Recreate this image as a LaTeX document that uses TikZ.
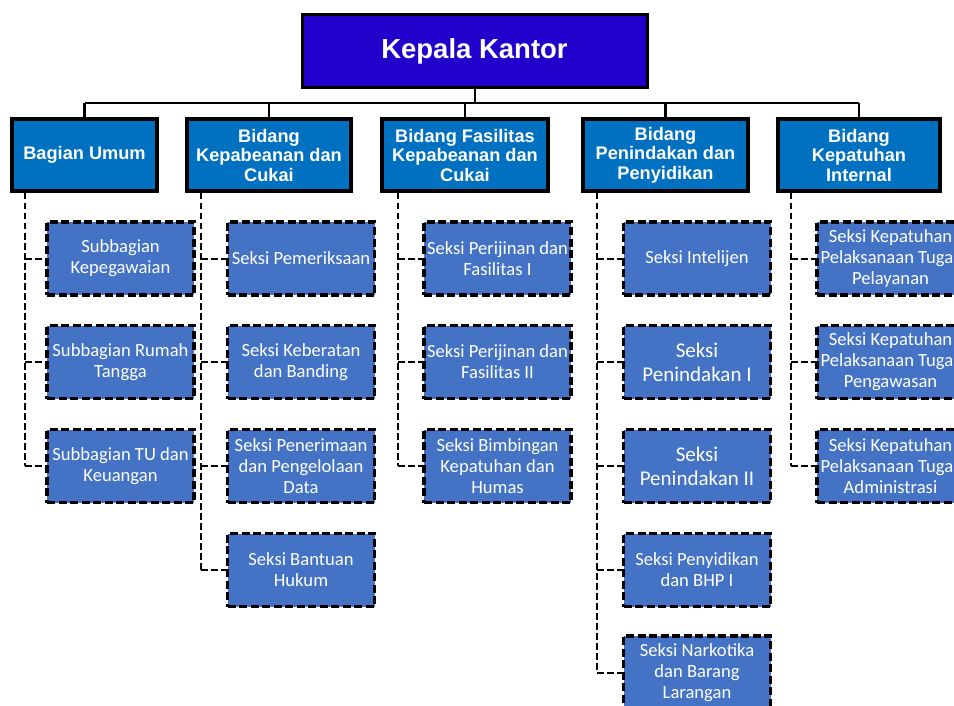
\documentclass[tikz,border=0pt]{standalone}
\usepackage{fontspec}
\setmainfont{Liberation Sans}
\newfontfamily\calibri{Carlito}
\usetikzlibrary{positioning,calc}
\definecolor{kepalablue}{RGB}{34,0,204}
\definecolor{bidangblue}{RGB}{0,112,192}
\definecolor{seksiblue}{RGB}{68,114,196}
\tikzset{kepala/.style={draw=black, line width=3pt, fill=kepalablue, text=white, minimum width=345pt, minimum height=73pt, font=\fontsize{27.5}{30}\selectfont\bfseries}}
\tikzset{bidang/.style={draw=black, line width=4pt, fill=bidangblue, text=white, minimum height=72pt, align=center, inner sep=1pt, font=\fontsize{18.2}{19.5}\selectfont\bfseries}}
\tikzset{seksi/.style={draw=black, line width=3.5pt, dash pattern=on 8pt off 3.5pt, fill=seksiblue, text=white, minimum width=147pt, minimum height=73pt, align=center, inner sep=0pt, font=\calibri\fontsize{18.6}{21}\selectfont}}
\tikzset{bigtext/.style={font=\calibri\fontsize{21}{24}\selectfont}}
\tikzset{solidline/.style={draw, line width=2.7pt}}
\tikzset{dashline/.style={draw, line width=2pt, dash pattern=on 6.5pt off 3.5pt}}

\begin{document}
\begin{tikzpicture}[x=1pt, y=-1pt]
	\useasboundingbox (0,0) rectangle (954,706);
	\clip (0,0) rectangle (954,706);
	
	% top level
	\node[kepala] (kepala) at (474.5,51.5){Kepala Kantor};
	\coordinate (bus) at (475,103);
	
	% second level
	\node[bidang, minimum width=145pt] (umum) at (84.5,155){Bagian Umum};
	\node[bidang, minimum width=164pt] (pabean) at (269,155){Bidang\\Kepabeanan dan\\Cukai};
	\node[bidang, minimum width=166pt] (fasilitas) at (465,155){Bidang Fasilitas\\Kepabeanan dan\\Cukai};
	\node[bidang, minimum width=165pt] (tindak) at (665.5,155){Bidang\\Penindakan dan\\Penyidikan};
	\node[bidang, minimum width=162pt] (patuh) at (859,155){Bidang\\Kepatuhan\\Internal};
	
	\draw[solidline] (kepala.south -| bus) -- (bus);
	\draw[solidline] (umum.north |- bus) -- (patuh.north |- bus);
	\draw[solidline] (umum.north |- bus) -- (umum.north);
	\draw[solidline] (pabean.north |- bus) -- (pabean.north);
	\draw[solidline] (fasilitas.north |- bus) -- (fasilitas.north);
	\draw[solidline] (tindak.north |- bus) -- (tindak.north);
	\draw[solidline] (patuh.north |- bus) -- (patuh.north);
	
	% Bagian Umum
	\node[seksi] (umum1) at (120.5,258.5){Subbagian\\Kepegawaian};
	\node[seksi] (umum2) at (120.5,362){Subbagian Rumah\\Tangga};
	\node[seksi] (umum3) at (120.5,466){Subbagian TU dan\\Keuangan};
	\coordinate (umumspine) at ($(umum.south west)+(15,0)$);
	\draw[dashline] (umumspine) -- (umumspine |- umum3.west);
	\draw[dashline] (umumspine |- umum1.west) -- (umum1.west);
	\draw[dashline] (umumspine |- umum2.west) -- (umum2.west);
	\draw[dashline] (umumspine |- umum3.west) -- (umum3.west);
	
	% Kepabeanan dan Cukai
	\node[seksi] (pabean1) at (301,258.5){Seksi Pemeriksaan};
	\node[seksi] (pabean2) at (301,362){Seksi Keberatan\\dan Banding};
	\node[seksi] (pabean3) at (301,466){Seksi Penerimaan\\dan Pengelolaan\\Data};
	\node[seksi] (pabean4) at (301,570){Seksi Bantuan\\Hukum};
	\coordinate (pabeanspine) at ($(pabean.south west)+(16,0)$);
	\draw[dashline] (pabeanspine) -- (pabeanspine |- pabean4.west);
	\draw[dashline] (pabeanspine |- pabean1.west) -- (pabean1.west);
	\draw[dashline] (pabeanspine |- pabean2.west) -- (pabean2.west);
	\draw[dashline] (pabeanspine |- pabean3.west) -- (pabean3.west);
	\draw[dashline] (pabeanspine |- pabean4.west) -- (pabean4.west);
	
	% Fasilitas
	\node[seksi] (fas1) at (497.5,258.5){Seksi Perijinan dan\\Fasilitas I};
	\node[seksi] (fas2) at (497.5,362){Seksi Perijinan dan\\Fasilitas II};
	\node[seksi] (fas3) at (497.5,466){Seksi Bimbingan\\Kepatuhan dan\\Humas};
	\coordinate (fasspine) at ($(fasilitas.south west)+(18,0)$);
	\draw[dashline] (fasspine) -- (fasspine |- fas3.west);
	\draw[dashline] (fasspine |- fas1.west) -- (fas1.west);
	\draw[dashline] (fasspine |- fas2.west) -- (fas2.west);
	\draw[dashline] (fasspine |- fas3.west) -- (fas3.west);
	
	% Penindakan dan Penyidikan
	\node[seksi] (tindak1) at (697,258.5){Seksi Intelijen};
	\node[seksi, bigtext] (tindak2) at (697,362){Seksi\\Penindakan I};
	\node[seksi, bigtext] (tindak3) at (697,466){Seksi\\Penindakan II};
	\node[seksi] (tindak4) at (697,570){Seksi Penyidikan\\dan BHP I};
	\node[seksi] (tindak5) at (697,672.5){Seksi Narkotika\\dan Barang\\Larangan};
	\coordinate (tindakspine) at ($(tindak.south west)+(16,0)$);
	\draw[dashline] (tindakspine) -- (tindakspine |- tindak5.west);
	\draw[dashline] (tindakspine |- tindak1.west) -- (tindak1.west);
	\draw[dashline] (tindakspine |- tindak2.west) -- (tindak2.west);
	\draw[dashline] (tindakspine |- tindak3.west) -- (tindak3.west);
	\draw[dashline] (tindakspine |- tindak4.west) -- (tindak4.west);
	\draw[dashline] (tindakspine |- tindak5.west) -- (tindak5.west);
	
	% Kepatuhan Internal
	\node[seksi] (patuh1) at (890.5,258.5){Seksi Kepatuhan\\Pelaksanaan Tugas\\Pelayanan};
	\node[seksi] (patuh2) at (890.5,362){Seksi Kepatuhan\\Pelaksanaan Tugas\\Pengawasan};
	\node[seksi] (patuh3) at (890.5,466){Seksi Kepatuhan\\Pelaksanaan Tugas\\Administrasi};
	\coordinate (patuhspine) at ($(patuh.south west)+(15,0)$);
	\draw[dashline] (patuhspine) -- (patuhspine |- patuh3.west);
	\draw[dashline] (patuhspine |- patuh1.west) -- (patuh1.west);
	\draw[dashline] (patuhspine |- patuh2.west) -- (patuh2.west);
	\draw[dashline] (patuhspine |- patuh3.west) -- (patuh3.west);
\end{tikzpicture}
\end{document}
